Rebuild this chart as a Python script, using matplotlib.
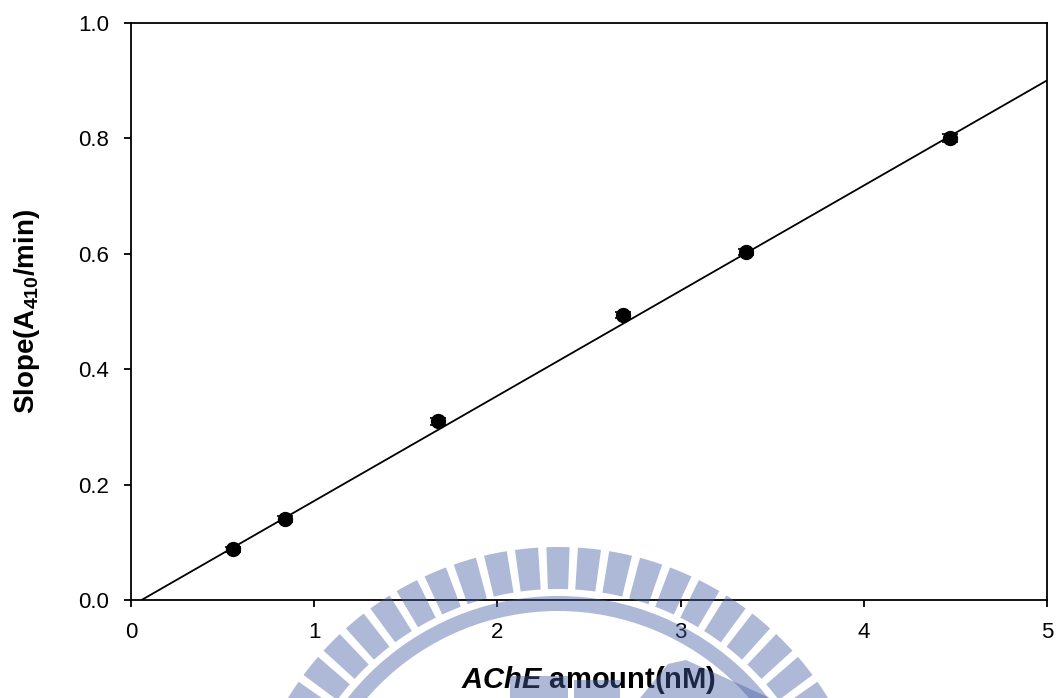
import numpy as np
import matplotlib
matplotlib.use("Agg")
import matplotlib.pyplot as plt
from matplotlib.patches import Wedge, Polygon

plt.rcParams['font.family'] = ['Liberation Sans', 'DejaVu Sans']
plt.rcParams['mathtext.fontset'] = 'custom'
plt.rcParams['mathtext.rm'] = 'Liberation Sans:bold'
plt.rcParams['mathtext.it'] = 'Liberation Sans:bold:italic'
plt.rcParams['mathtext.bf'] = 'Liberation Sans:bold'

# data
ache_nM = [0.557, 0.84, 1.676, 2.686, 3.357, 4.47]
slope_vals = [0.088, 0.140, 0.310, 0.494, 0.603, 0.800]
slope_err = [0.004, 0.005, 0.006, 0.005, 0.005, 0.007]
fit_slope = 0.1822
fit_icpt = -0.0105
fit_range = [0.058, 5.0]

xticks = [0, 1, 2, 3, 4, 5]
yticks = [0.0, 0.2, 0.4, 0.6, 0.8, 1.0]

fig = plt.figure(figsize=(10.57, 6.98), dpi=100)
ax = fig.add_axes([131/1057, 1-600/698, 916/1057, 577/698])

xf = np.array(fit_range)
ax.plot(xf, fit_slope*xf + fit_icpt, color='black', lw=1.3, zorder=2)
ax.errorbar(ache_nM, slope_vals, yerr=slope_err, fmt='o', color='black',
            ms=10, capsize=6, elinewidth=1, capthick=1.2, zorder=3)

ax.set_xlim(0, 5)
ax.set_ylim(0, 1.0)
ax.set_xticks(xticks)
ax.set_xticklabels([str(t) for t in xticks])
ax.set_yticks(yticks)
ax.set_yticklabels(['%.1f' % t for t in yticks])
ax.tick_params(direction='out', length=5, width=1.3, labelsize=16, pad=11,
               top=False, right=False)
ax.tick_params(axis='x', pad=11)
for s in ax.spines.values():
    s.set_linewidth(1.3)

ax.set_xlabel(r'$\mathit{AChE}$ amount(nM)', fontsize=21, fontweight='bold', labelpad=15)
ax.set_ylabel(r'Slope(A$_{410}$/min)', fontsize=20, fontweight='bold', labelpad=26)

# watermark (logo) drawn over everything, in pixel coords
wm = fig.add_axes([0, 0, 1, 1], zorder=10)
wm.set_xlim(0, 1057)
wm.set_ylim(698, 0)
wm.axis('off')
wcol = (0.27, 0.37, 0.65)
wa = 0.43
cx, cy = 558, 864
step = 5.7
for k in range(-16, 17):
    c = 270 + k*step
    wm.add_patch(Wedge((cx, cy), 317, c-2.1, c+2.1, width=42, color=wcol, alpha=wa, lw=0))
wm.add_patch(Wedge((cx, cy), 268, 180, 360, width=15, color=wcol, alpha=wa, lw=0))
wm.add_patch(Polygon([(510, 676), (568, 676), (568, 698), (510, 698)], color=wcol, alpha=wa, lw=0))
wm.add_patch(Polygon([(574, 680), (620, 680), (620, 698), (574, 698)], color=wcol, alpha=wa, lw=0))
wm.add_patch(Polygon([(668, 664), (686, 660), (770, 698), (640, 698)], color=wcol, alpha=wa, lw=0))

fig.savefig('out.png', dpi=100)
